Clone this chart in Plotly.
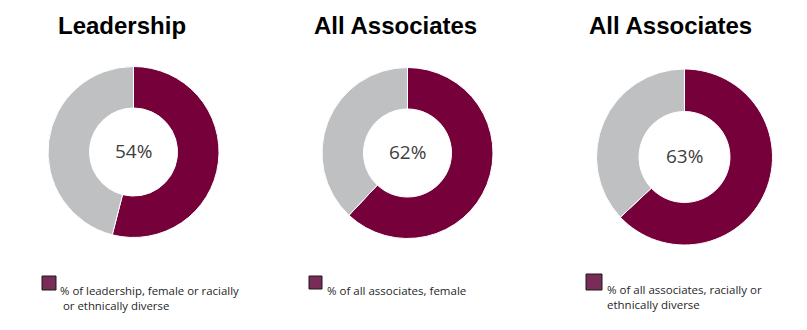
import plotly.graph_objects as go

titles = ["Leadership", "All Associates", "All Associates"]
values = [54, 62, 63]
slice_labels = ["Diverse", "Other"]
legend_texts = [
    "% of leadership, female or racially<br> or ethnically diverse",
    "% of all associates, female",
    "% of all associates, racially or<br>ethnically diverse",
]

W, H = 807, 330
MAROON = "#76003A"
GRAY = "#BFC0C2"
LEG_FILL = "#7B2B57"

# layout geometry (pixels)
centers = [(133.5, 152), (407.5, 153), (684.5, 157)]
radii = [85.5, 85.5, 88]
holes = [0.515, 0.515, 0.517]
title_pos = [(122, 26), (395, 26), (670, 26)]
leg_box = [(42, 276, 14), (309, 276, 13), (586, 274, 16)]
leg_text = [(58, 289, 11.4), (325, 289, 11.5), (605, 288, 11.5)]


def px(x):
    return x / W


def py(y):
    return 1 - y / H


fig = go.Figure()
for i, v in enumerate(values):
    cx, cy = centers[i]
    r = radii[i]
    fig.add_trace(go.Pie(
        values=[v, 100 - v],
        labels=slice_labels,
        hole=holes[i],
        sort=False,
        direction="clockwise",
        rotation=0,
        marker=dict(colors=[MAROON, GRAY], line=dict(color="white", width=1)),
        textinfo="none",
        hoverinfo="label+percent",
        showlegend=False,
        domain=dict(x=[px(cx - r), px(cx + r)], y=[py(cy + r), py(cy - r)]),
    ))
    fig.add_annotation(
        x=px(cx), y=py(cy - 1), xref="paper", yref="paper",
        text=f"{v}%", showarrow=False, xanchor="center", yanchor="middle",
        font=dict(family="Open Sans", size=19, color="#404040"),
    )
    tx, ty = title_pos[i]
    fig.add_annotation(
        x=px(tx), y=py(ty), xref="paper", yref="paper",
        text=f"<b>{titles[i]}</b>", showarrow=False, xanchor="center", yanchor="middle",
        font=dict(family="Liberation Sans, Arial", size=24, color="#000000"),
    )
    bx, by, bs = leg_box[i]
    fig.add_shape(
        type="rect", xref="paper", yref="paper",
        x0=px(bx), x1=px(bx + bs), y0=py(by + bs), y1=py(by),
        fillcolor=LEG_FILL, line=dict(color="#1a1a1a", width=1),
    )
    lx, ly, fs = leg_text[i]
    fig.add_annotation(
        x=px(lx), y=py(ly - 8), xref="paper", yref="paper",
        text=legend_texts[i], showarrow=False, xanchor="left", yanchor="top",
        align="left",
        font=dict(family="Open Sans", size=fs, color="#1f1f1f"),
    )

fig.update_layout(
    width=W, height=H,
    margin=dict(l=0, r=0, t=0, b=0),
    paper_bgcolor="white", plot_bgcolor="white",
    showlegend=False,
)

fig.write_html("out.html")
